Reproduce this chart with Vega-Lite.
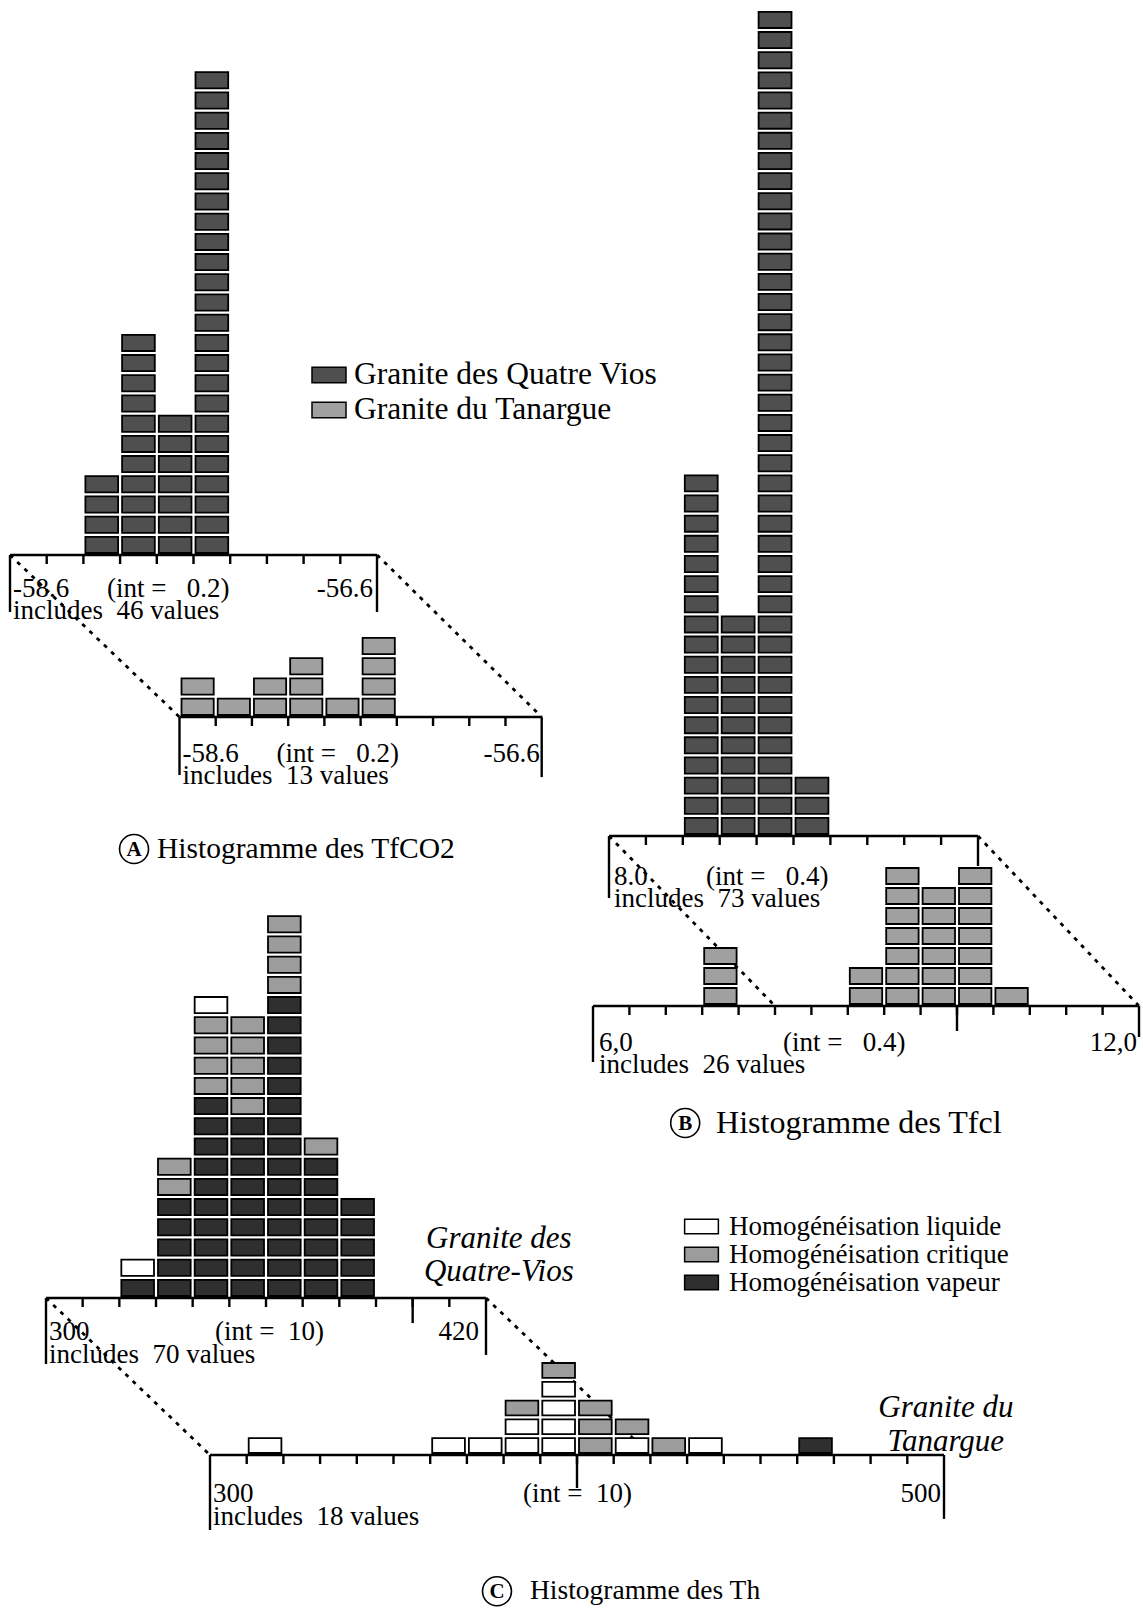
{
"$schema":"https://vega.github.io/schema/vega-lite/v6.json",
"width":1143,"height":1609,"padding":0,"autosize":{"type":"none"},"background":"white",
"config":{"view":{"stroke":null},
 "text":{"font":"Liberation Serif","fontSize":27,"color":"black","baseline":"alphabetic","align":"left"},
 "rule":{"color":"black","strokeWidth":2.4}},
"datasets":{
"A1":[
{"x0":-58.2,"x1":-58,"t":"QV"},{"x0":-58.2,"x1":-58,"t":"QV"},{"x0":-58.2,"x1":-58,"t":"QV"},{"x0":-58.2,"x1":-58,"t":"QV"},
{"x0":-58,"x1":-57.8,"t":"QV"},{"x0":-58,"x1":-57.8,"t":"QV"},{"x0":-58,"x1":-57.8,"t":"QV"},{"x0":-58,"x1":-57.8,"t":"QV"},{"x0":-58,"x1":-57.8,"t":"QV"},
{"x0":-58,"x1":-57.8,"t":"QV"},{"x0":-58,"x1":-57.8,"t":"QV"},{"x0":-58,"x1":-57.8,"t":"QV"},{"x0":-58,"x1":-57.8,"t":"QV"},{"x0":-58,"x1":-57.8,"t":"QV"},
{"x0":-58,"x1":-57.8,"t":"QV"},
{"x0":-57.8,"x1":-57.6,"t":"QV"},{"x0":-57.8,"x1":-57.6,"t":"QV"},{"x0":-57.8,"x1":-57.6,"t":"QV"},{"x0":-57.8,"x1":-57.6,"t":"QV"},{"x0":-57.8,"x1":-57.6,"t":"QV"},
{"x0":-57.8,"x1":-57.6,"t":"QV"},{"x0":-57.8,"x1":-57.6,"t":"QV"},
{"x0":-57.6,"x1":-57.4,"t":"QV"},{"x0":-57.6,"x1":-57.4,"t":"QV"},{"x0":-57.6,"x1":-57.4,"t":"QV"},{"x0":-57.6,"x1":-57.4,"t":"QV"},{"x0":-57.6,"x1":-57.4,"t":"QV"},
{"x0":-57.6,"x1":-57.4,"t":"QV"},{"x0":-57.6,"x1":-57.4,"t":"QV"},{"x0":-57.6,"x1":-57.4,"t":"QV"},{"x0":-57.6,"x1":-57.4,"t":"QV"},{"x0":-57.6,"x1":-57.4,"t":"QV"},
{"x0":-57.6,"x1":-57.4,"t":"QV"},{"x0":-57.6,"x1":-57.4,"t":"QV"},{"x0":-57.6,"x1":-57.4,"t":"QV"},{"x0":-57.6,"x1":-57.4,"t":"QV"},{"x0":-57.6,"x1":-57.4,"t":"QV"},
{"x0":-57.6,"x1":-57.4,"t":"QV"},{"x0":-57.6,"x1":-57.4,"t":"QV"},{"x0":-57.6,"x1":-57.4,"t":"QV"},{"x0":-57.6,"x1":-57.4,"t":"QV"},{"x0":-57.6,"x1":-57.4,"t":"QV"},
{"x0":-57.6,"x1":-57.4,"t":"QV"},{"x0":-57.6,"x1":-57.4,"t":"QV"},{"x0":-57.6,"x1":-57.4,"t":"QV"},{"x0":-57.6,"x1":-57.4,"t":"QV"}
],
"A2":[
{"x0":-58.6,"x1":-58.4,"t":"TA"},{"x0":-58.6,"x1":-58.4,"t":"TA"},
{"x0":-58.4,"x1":-58.2,"t":"TA"},
{"x0":-58.2,"x1":-58,"t":"TA"},{"x0":-58.2,"x1":-58,"t":"TA"},
{"x0":-58,"x1":-57.8,"t":"TA"},{"x0":-58,"x1":-57.8,"t":"TA"},{"x0":-58,"x1":-57.8,"t":"TA"},
{"x0":-57.8,"x1":-57.6,"t":"TA"},
{"x0":-57.6,"x1":-57.4,"t":"TA"},{"x0":-57.6,"x1":-57.4,"t":"TA"},{"x0":-57.6,"x1":-57.4,"t":"TA"},{"x0":-57.6,"x1":-57.4,"t":"TA"}
],
"B1":[
{"x0":8.8,"x1":9.2,"t":"QV"},{"x0":8.8,"x1":9.2,"t":"QV"},{"x0":8.8,"x1":9.2,"t":"QV"},{"x0":8.8,"x1":9.2,"t":"QV"},{"x0":8.8,"x1":9.2,"t":"QV"},
{"x0":8.8,"x1":9.2,"t":"QV"},{"x0":8.8,"x1":9.2,"t":"QV"},{"x0":8.8,"x1":9.2,"t":"QV"},{"x0":8.8,"x1":9.2,"t":"QV"},{"x0":8.8,"x1":9.2,"t":"QV"},
{"x0":8.8,"x1":9.2,"t":"QV"},{"x0":8.8,"x1":9.2,"t":"QV"},{"x0":8.8,"x1":9.2,"t":"QV"},{"x0":8.8,"x1":9.2,"t":"QV"},{"x0":8.8,"x1":9.2,"t":"QV"},
{"x0":8.8,"x1":9.2,"t":"QV"},{"x0":8.8,"x1":9.2,"t":"QV"},{"x0":8.8,"x1":9.2,"t":"QV"},
{"x0":9.2,"x1":9.6,"t":"QV"},{"x0":9.2,"x1":9.6,"t":"QV"},{"x0":9.2,"x1":9.6,"t":"QV"},{"x0":9.2,"x1":9.6,"t":"QV"},{"x0":9.2,"x1":9.6,"t":"QV"},
{"x0":9.2,"x1":9.6,"t":"QV"},{"x0":9.2,"x1":9.6,"t":"QV"},{"x0":9.2,"x1":9.6,"t":"QV"},{"x0":9.2,"x1":9.6,"t":"QV"},{"x0":9.2,"x1":9.6,"t":"QV"},
{"x0":9.2,"x1":9.6,"t":"QV"},
{"x0":9.6,"x1":10,"t":"QV"},{"x0":9.6,"x1":10,"t":"QV"},{"x0":9.6,"x1":10,"t":"QV"},{"x0":9.6,"x1":10,"t":"QV"},{"x0":9.6,"x1":10,"t":"QV"},
{"x0":9.6,"x1":10,"t":"QV"},{"x0":9.6,"x1":10,"t":"QV"},{"x0":9.6,"x1":10,"t":"QV"},{"x0":9.6,"x1":10,"t":"QV"},{"x0":9.6,"x1":10,"t":"QV"},
{"x0":9.6,"x1":10,"t":"QV"},{"x0":9.6,"x1":10,"t":"QV"},{"x0":9.6,"x1":10,"t":"QV"},{"x0":9.6,"x1":10,"t":"QV"},{"x0":9.6,"x1":10,"t":"QV"},
{"x0":9.6,"x1":10,"t":"QV"},{"x0":9.6,"x1":10,"t":"QV"},{"x0":9.6,"x1":10,"t":"QV"},{"x0":9.6,"x1":10,"t":"QV"},{"x0":9.6,"x1":10,"t":"QV"},
{"x0":9.6,"x1":10,"t":"QV"},{"x0":9.6,"x1":10,"t":"QV"},{"x0":9.6,"x1":10,"t":"QV"},{"x0":9.6,"x1":10,"t":"QV"},{"x0":9.6,"x1":10,"t":"QV"},
{"x0":9.6,"x1":10,"t":"QV"},{"x0":9.6,"x1":10,"t":"QV"},{"x0":9.6,"x1":10,"t":"QV"},{"x0":9.6,"x1":10,"t":"QV"},{"x0":9.6,"x1":10,"t":"QV"},
{"x0":9.6,"x1":10,"t":"QV"},{"x0":9.6,"x1":10,"t":"QV"},{"x0":9.6,"x1":10,"t":"QV"},{"x0":9.6,"x1":10,"t":"QV"},{"x0":9.6,"x1":10,"t":"QV"},
{"x0":9.6,"x1":10,"t":"QV"},{"x0":9.6,"x1":10,"t":"QV"},{"x0":9.6,"x1":10,"t":"QV"},{"x0":9.6,"x1":10,"t":"QV"},{"x0":9.6,"x1":10,"t":"QV"},
{"x0":9.6,"x1":10,"t":"QV"},
{"x0":10,"x1":10.4,"t":"QV"},{"x0":10,"x1":10.4,"t":"QV"},{"x0":10,"x1":10.4,"t":"QV"}
],
"B2":[
{"x0":7.2,"x1":7.6,"t":"TA"},{"x0":7.2,"x1":7.6,"t":"TA"},{"x0":7.2,"x1":7.6,"t":"TA"},
{"x0":8.8,"x1":9.2,"t":"TA"},{"x0":8.8,"x1":9.2,"t":"TA"},
{"x0":9.2,"x1":9.6,"t":"TA"},{"x0":9.2,"x1":9.6,"t":"TA"},{"x0":9.2,"x1":9.6,"t":"TA"},{"x0":9.2,"x1":9.6,"t":"TA"},{"x0":9.2,"x1":9.6,"t":"TA"},{"x0":9.2,"x1":9.6,"t":"TA"},{"x0":9.2,"x1":9.6,"t":"TA"},
{"x0":9.6,"x1":10,"t":"TA"},{"x0":9.6,"x1":10,"t":"TA"},{"x0":9.6,"x1":10,"t":"TA"},{"x0":9.6,"x1":10,"t":"TA"},{"x0":9.6,"x1":10,"t":"TA"},{"x0":9.6,"x1":10,"t":"TA"},
{"x0":10,"x1":10.4,"t":"TA"},{"x0":10,"x1":10.4,"t":"TA"},{"x0":10,"x1":10.4,"t":"TA"},{"x0":10,"x1":10.4,"t":"TA"},{"x0":10,"x1":10.4,"t":"TA"},{"x0":10,"x1":10.4,"t":"TA"},{"x0":10,"x1":10.4,"t":"TA"},
{"x0":10.4,"x1":10.8,"t":"TA"}
],
"C1":[
{"x0":320,"x1":330,"t":"V"},{"x0":320,"x1":330,"t":"L"},
{"x0":330,"x1":340,"t":"V"},{"x0":330,"x1":340,"t":"V"},{"x0":330,"x1":340,"t":"V"},{"x0":330,"x1":340,"t":"V"},{"x0":330,"x1":340,"t":"V"},
{"x0":330,"x1":340,"t":"C"},{"x0":330,"x1":340,"t":"C"},
{"x0":340,"x1":350,"t":"V"},{"x0":340,"x1":350,"t":"V"},{"x0":340,"x1":350,"t":"V"},{"x0":340,"x1":350,"t":"V"},{"x0":340,"x1":350,"t":"V"},
{"x0":340,"x1":350,"t":"V"},{"x0":340,"x1":350,"t":"V"},{"x0":340,"x1":350,"t":"V"},{"x0":340,"x1":350,"t":"V"},{"x0":340,"x1":350,"t":"V"},
{"x0":340,"x1":350,"t":"C"},{"x0":340,"x1":350,"t":"C"},{"x0":340,"x1":350,"t":"C"},{"x0":340,"x1":350,"t":"C"},
{"x0":340,"x1":350,"t":"L"},
{"x0":350,"x1":360,"t":"V"},{"x0":350,"x1":360,"t":"V"},{"x0":350,"x1":360,"t":"V"},{"x0":350,"x1":360,"t":"V"},{"x0":350,"x1":360,"t":"V"},
{"x0":350,"x1":360,"t":"V"},{"x0":350,"x1":360,"t":"V"},{"x0":350,"x1":360,"t":"V"},{"x0":350,"x1":360,"t":"V"},
{"x0":350,"x1":360,"t":"C"},{"x0":350,"x1":360,"t":"C"},{"x0":350,"x1":360,"t":"C"},{"x0":350,"x1":360,"t":"C"},{"x0":350,"x1":360,"t":"C"},
{"x0":360,"x1":370,"t":"V"},{"x0":360,"x1":370,"t":"V"},{"x0":360,"x1":370,"t":"V"},{"x0":360,"x1":370,"t":"V"},{"x0":360,"x1":370,"t":"V"},
{"x0":360,"x1":370,"t":"V"},{"x0":360,"x1":370,"t":"V"},{"x0":360,"x1":370,"t":"V"},{"x0":360,"x1":370,"t":"V"},{"x0":360,"x1":370,"t":"V"},
{"x0":360,"x1":370,"t":"V"},{"x0":360,"x1":370,"t":"V"},{"x0":360,"x1":370,"t":"V"},{"x0":360,"x1":370,"t":"V"},{"x0":360,"x1":370,"t":"V"},
{"x0":360,"x1":370,"t":"C"},{"x0":360,"x1":370,"t":"C"},{"x0":360,"x1":370,"t":"C"},{"x0":360,"x1":370,"t":"C"},
{"x0":370,"x1":380,"t":"V"},{"x0":370,"x1":380,"t":"V"},{"x0":370,"x1":380,"t":"V"},{"x0":370,"x1":380,"t":"V"},{"x0":370,"x1":380,"t":"V"},
{"x0":370,"x1":380,"t":"V"},{"x0":370,"x1":380,"t":"V"},{"x0":370,"x1":380,"t":"C"},
{"x0":380,"x1":390,"t":"V"},{"x0":380,"x1":390,"t":"V"},{"x0":380,"x1":390,"t":"V"},{"x0":380,"x1":390,"t":"V"},{"x0":380,"x1":390,"t":"V"}
],
"C2":[
{"x0":310,"x1":320,"t":"L"},
{"x0":360,"x1":370,"t":"L"},
{"x0":370,"x1":380,"t":"L"},
{"x0":380,"x1":390,"t":"L"},{"x0":380,"x1":390,"t":"L"},{"x0":380,"x1":390,"t":"C"},
{"x0":390,"x1":400,"t":"L"},{"x0":390,"x1":400,"t":"L"},{"x0":390,"x1":400,"t":"L"},{"x0":390,"x1":400,"t":"L"},{"x0":390,"x1":400,"t":"C"},
{"x0":400,"x1":410,"t":"C"},{"x0":400,"x1":410,"t":"C"},{"x0":400,"x1":410,"t":"C"},
{"x0":410,"x1":420,"t":"L"},{"x0":410,"x1":420,"t":"C"},
{"x0":420,"x1":430,"t":"C"},
{"x0":430,"x1":440,"t":"L"},
{"x0":460,"x1":470,"t":"V"}
],
"tA":[{"v":-58.4},{"v":-58.2},{"v":-58},{"v":-57.8},{"v":-57.6},{"v":-57.4},{"v":-57.2},{"v":-57},{"v":-56.8}],
"tB1":[{"v":8.4},{"v":8.8},{"v":9.2},{"v":9.6},{"v":10},{"v":10.4},{"v":10.8},{"v":11.2},{"v":11.6}],
"tB2":[{"v":6.4},{"v":6.8},{"v":7.2},{"v":7.6},{"v":8},{"v":8.4},{"v":8.8},{"v":9.2},{"v":9.6},{"v":10},{"v":10.4},{"v":10.8},{"v":11.2},{"v":11.6}],
"tC1":[{"v":310},{"v":320},{"v":330},{"v":340},{"v":350},{"v":360},{"v":370},{"v":380},{"v":390},{"v":400},{"v":410}],
"tC2":[{"v":310},{"v":320},{"v":330},{"v":340},{"v":350},{"v":360},{"v":370},{"v":380},{"v":390},{"v":400},{"v":410},{"v":420},{"v":430},{"v":440},{"v":450},{"v":460},{"v":470},{"v":480},{"v":490}]
},
"layer":[
{"layer":[
 {"data":{"name":"A1"},
  "transform":[{"window":[{"op":"row_number","as":"k1"},{"op":"count","as":"k0"}],"groupby":["x0"],"frame":[null,-1]}],
  "mark":{"type":"rect","stroke":"black","strokeWidth":1.8,"xOffset":2,"x2Offset":-2,"yOffset":-2,"y2Offset":2},
  "encoding":{
   "x":{"field":"x0","type":"quantitative","scale":{"domain":[-58.6,-56.6],"range":[10,377],"nice":false,"zero":false},"axis":null},
   "x2":{"field":"x1"},
   "y":{"field":"k0","type":"quantitative","scale":{"domain":[0,24],"range":[555,70.2],"nice":false,"zero":false},"axis":null},
   "y2":{"field":"k1"},
   "fill":{"field":"t","type":"nominal","scale":{"domain":["QV","TA"],"range":["#4f4f4f","#a0a0a0"]},
     "legend":{"orient":"none","legendX":311,"legendY":357,"title":null,"padding":0,"rowPadding":1,
       "labelExpr":"datum.label == 'QV' ? 'Granite des Quatre Vios' : 'Granite du Tanargue'",
       "labelFont":"Liberation Serif","labelFontSize":31.5,"labelColor":"black","labelLimit":600,"labelOffset":7,
       "symbolType":"M-1,-0.45H1V0.45H-1Z","symbolSize":1156,"symbolStrokeColor":"black","symbolStrokeWidth":1.5,"symbolOpacity":1}}}},
 {"data":{"values":[{}]},"mark":{"type":"rule"},"encoding":{"x":{"datum":-58.6,"axis":null},"x2":{"datum":-56.6},"y":{"datum":0,"axis":null}}},
 {"data":{"name":"tA"},"mark":{"type":"rule"},"encoding":{"x":{"field":"v","type":"quantitative","axis":null},"y":{"datum":0,"axis":null},"y2":{"datum":-0.446}}},
 {"data":{"values":[{}]},"mark":{"type":"rule"},"encoding":{"x":{"datum":-58.6,"axis":null},"y":{"datum":0,"axis":null},"y2":{"datum":-2.82}}},
 {"data":{"values":[{}]},"mark":{"type":"rule"},"encoding":{"x":{"datum":-56.6,"axis":null},"y":{"datum":0,"axis":null},"y2":{"datum":-2.82}}},
 {"data":{"values":[{}]},"mark":{"type":"text","text":"-58.6","dx":3,"dy":42},"encoding":{"x":{"datum":-58.6,"axis":null},"y":{"datum":0,"axis":null}}},
 {"data":{"values":[{}]},"mark":{"type":"text","text":"(int =\u00a0\u00a0 0.2)","dx":97,"dy":42},"encoding":{"x":{"datum":-58.6,"axis":null},"y":{"datum":0,"axis":null}}},
 {"data":{"values":[{}]},"mark":{"type":"text","text":"-56.6","align":"right","dx":-4,"dy":42},"encoding":{"x":{"datum":-56.6,"axis":null},"y":{"datum":0,"axis":null}}},
 {"data":{"values":[{}]},"mark":{"type":"text","text":"includes\u00a0 46 values","dx":3,"dy":64},"encoding":{"x":{"datum":-58.6,"axis":null},"y":{"datum":0,"axis":null}}}
]},
{"layer":[
 {"data":{"values":[{}]},"mark":{"type":"rule","strokeDash":[4,6],"strokeWidth":2.8},"encoding":{"x":{"datum":-59.536,"axis":null},"y":{"datum":7.98,"axis":null},"x2":{"datum":-58.6},"y2":{"datum":0}}},
 {"data":{"values":[{}]},"mark":{"type":"rule","strokeDash":[4,6],"strokeWidth":2.8},"encoding":{"x":{"datum":-57.509,"axis":null},"y":{"datum":7.98,"axis":null},"x2":{"datum":-56.6},"y2":{"datum":0}}},
 {"data":{"name":"A2"},
  "transform":[{"window":[{"op":"row_number","as":"k1"},{"op":"count","as":"k0"}],"groupby":["x0"],"frame":[null,-1]}],
  "mark":{"type":"rect","stroke":"black","strokeWidth":1.8,"xOffset":2,"x2Offset":-2,"yOffset":-2,"y2Offset":2},
  "encoding":{
   "x":{"field":"x0","type":"quantitative","scale":{"domain":[-58.6,-56.6],"range":[179.5,541.7],"nice":false,"zero":false},"axis":null},
   "x2":{"field":"x1"},
   "y":{"field":"k0","type":"quantitative","scale":{"domain":[0,4],"range":[717,635.8],"nice":false,"zero":false},"axis":null},
   "y2":{"field":"k1"},
   "fill":{"field":"t","type":"nominal","scale":{"domain":["QV","TA"],"range":["#4f4f4f","#a0a0a0"]},"legend":null}}},
 {"data":{"values":[{}]},"mark":{"type":"rule"},"encoding":{"x":{"datum":-58.6,"axis":null},"x2":{"datum":-56.6},"y":{"datum":0,"axis":null}}},
 {"data":{"name":"tA"},"mark":{"type":"rule"},"encoding":{"x":{"field":"v","type":"quantitative","axis":null},"y":{"datum":0,"axis":null},"y2":{"datum":-0.443}}},
 {"data":{"values":[{}]},"mark":{"type":"rule"},"encoding":{"x":{"datum":-58.6,"axis":null},"y":{"datum":0,"axis":null},"y2":{"datum":-2.86}}},
 {"data":{"values":[{}]},"mark":{"type":"rule"},"encoding":{"x":{"datum":-56.6,"axis":null},"y":{"datum":0,"axis":null},"y2":{"datum":-2.96}}},
 {"data":{"values":[{}]},"mark":{"type":"text","text":"-58.6","dx":3,"dy":45},"encoding":{"x":{"datum":-58.6,"axis":null},"y":{"datum":0,"axis":null}}},
 {"data":{"values":[{}]},"mark":{"type":"text","text":"(int =\u00a0\u00a0 0.2)","dx":97,"dy":45},"encoding":{"x":{"datum":-58.6,"axis":null},"y":{"datum":0,"axis":null}}},
 {"data":{"values":[{}]},"mark":{"type":"text","text":"-56.6","align":"right","dx":-2,"dy":45},"encoding":{"x":{"datum":-56.6,"axis":null},"y":{"datum":0,"axis":null}}},
 {"data":{"values":[{}]},"mark":{"type":"text","text":"includes\u00a0 13 values","dx":3,"dy":67},"encoding":{"x":{"datum":-58.6,"axis":null},"y":{"datum":0,"axis":null}}},
 {"data":{"values":[{}]},"mark":{"type":"point","shape":"circle","size":840,"filled":false,"color":"black","strokeWidth":1.6,"opacity":1},"encoding":{"x":{"datum":-58.851,"axis":null},"y":{"datum":-6.5,"axis":null}}},
 {"data":{"values":[{}]},"mark":{"type":"text","text":"A","align":"center","baseline":"middle","fontSize":21,"fontWeight":"bold","dy":1},"encoding":{"x":{"datum":-58.851,"axis":null},"y":{"datum":-6.5,"axis":null}}},
 {"data":{"values":[{}]},"mark":{"type":"text","text":"Histogramme des TfCO2","baseline":"middle","fontSize":29.5},"encoding":{"x":{"datum":-58.724,"axis":null},"y":{"datum":-6.5,"axis":null}}}
]},
{"layer":[
 {"data":{"name":"B1"},
  "transform":[{"window":[{"op":"row_number","as":"k1"},{"op":"count","as":"k0"}],"groupby":["x0"],"frame":[null,-1]}],
  "mark":{"type":"rect","stroke":"black","strokeWidth":1.8,"xOffset":2,"x2Offset":-2,"yOffset":-2,"y2Offset":2},
  "encoding":{
   "x":{"field":"x0","type":"quantitative","scale":{"domain":[8,12],"range":[609,978],"nice":false,"zero":false},"axis":null},
   "x2":{"field":"x1"},
   "y":{"field":"k0","type":"quantitative","scale":{"domain":[0,41],"range":[836,9.85],"nice":false,"zero":false},"axis":null},
   "y2":{"field":"k1"},
   "fill":{"field":"t","type":"nominal","scale":{"domain":["QV","TA"],"range":["#4f4f4f","#a0a0a0"]},"legend":null}}},
 {"data":{"values":[{}]},"mark":{"type":"rule"},"encoding":{"x":{"datum":8,"axis":null},"x2":{"datum":12},"y":{"datum":0,"axis":null}}},
 {"data":{"name":"tB1"},"mark":{"type":"rule"},"encoding":{"x":{"field":"v","type":"quantitative","axis":null},"y":{"datum":0,"axis":null},"y2":{"datum":-0.447}}},
 {"data":{"values":[{}]},"mark":{"type":"rule"},"encoding":{"x":{"datum":8,"axis":null},"y":{"datum":0,"axis":null},"y2":{"datum":-3.08}}},
 {"data":{"values":[{}]},"mark":{"type":"rule"},"encoding":{"x":{"datum":12,"axis":null},"y":{"datum":0,"axis":null},"y2":{"datum":-1.49}}},
 {"data":{"values":[{}]},"mark":{"type":"text","text":"8.0","dx":5,"dy":49},"encoding":{"x":{"datum":8,"axis":null},"y":{"datum":0,"axis":null}}},
 {"data":{"values":[{}]},"mark":{"type":"text","text":"(int =\u00a0\u00a0 0.4)","dx":97,"dy":49},"encoding":{"x":{"datum":8,"axis":null},"y":{"datum":0,"axis":null}}},
 {"data":{"values":[{}]},"mark":{"type":"text","text":"includes\u00a0 73 values","dx":5,"dy":71},"encoding":{"x":{"datum":8,"axis":null},"y":{"datum":0,"axis":null}}}
]},
{"layer":[
 {"data":{"values":[{}]},"mark":{"type":"rule","strokeDash":[4,6],"strokeWidth":2.8},"encoding":{"x":{"datum":6.176,"axis":null},"y":{"datum":8.5,"axis":null},"x2":{"datum":8},"y2":{"datum":0}}},
 {"data":{"values":[{}]},"mark":{"type":"rule","strokeDash":[4,6],"strokeWidth":2.8},"encoding":{"x":{"datum":10.231,"axis":null},"y":{"datum":8.5,"axis":null},"x2":{"datum":12},"y2":{"datum":0}}},
 {"data":{"name":"B2"},
  "transform":[{"window":[{"op":"row_number","as":"k1"},{"op":"count","as":"k0"}],"groupby":["x0"],"frame":[null,-1]}],
  "mark":{"type":"rect","stroke":"black","strokeWidth":1.8,"xOffset":2,"x2Offset":-2,"yOffset":-2,"y2Offset":2},
  "encoding":{
   "x":{"field":"x0","type":"quantitative","scale":{"domain":[6,12],"range":[593,1139],"nice":false,"zero":false},"axis":null},
   "x2":{"field":"x1"},
   "y":{"field":"k0","type":"quantitative","scale":{"domain":[0,7],"range":[1006,866],"nice":false,"zero":false},"axis":null},
   "y2":{"field":"k1"},
   "fill":{"field":"t","type":"nominal","scale":{"domain":["QV","TA"],"range":["#4f4f4f","#a0a0a0"]},"legend":null}}},
 {"data":{"values":[{}]},"mark":{"type":"rule"},"encoding":{"x":{"datum":6,"axis":null},"x2":{"datum":12},"y":{"datum":0,"axis":null}}},
 {"data":{"name":"tB2"},"mark":{"type":"rule"},"encoding":{"x":{"field":"v","type":"quantitative","axis":null},"y":{"datum":0,"axis":null},"y2":{"datum":-0.45}}},
 {"data":{"values":[{}]},"mark":{"type":"rule"},"encoding":{"x":{"datum":6,"axis":null},"y":{"datum":0,"axis":null},"y2":{"datum":-2.8}}},
 {"data":{"values":[{}]},"mark":{"type":"rule"},"encoding":{"x":{"datum":12,"axis":null},"y":{"datum":0,"axis":null},"y2":{"datum":-1.55}}},
 {"data":{"values":[{}]},"mark":{"type":"rule"},"encoding":{"x":{"datum":10,"axis":null},"y":{"datum":0,"axis":null},"y2":{"datum":-1.25}}},
 {"data":{"values":[{}]},"mark":{"type":"text","text":"6,0","dx":6,"dy":45},"encoding":{"x":{"datum":6,"axis":null},"y":{"datum":0,"axis":null}}},
 {"data":{"values":[{}]},"mark":{"type":"text","text":"(int =\u00a0\u00a0 0.4)","dx":190,"dy":45},"encoding":{"x":{"datum":6,"axis":null},"y":{"datum":0,"axis":null}}},
 {"data":{"values":[{}]},"mark":{"type":"text","text":"12,0","align":"right","dx":-2,"dy":45},"encoding":{"x":{"datum":12,"axis":null},"y":{"datum":0,"axis":null}}},
 {"data":{"values":[{}]},"mark":{"type":"text","text":"includes\u00a0 26 values","dx":6,"dy":67},"encoding":{"x":{"datum":6,"axis":null},"y":{"datum":0,"axis":null}}},
 {"data":{"values":[{}]},"mark":{"type":"point","shape":"circle","size":840,"filled":false,"color":"black","strokeWidth":1.6,"opacity":1},"encoding":{"x":{"datum":7.013,"axis":null},"y":{"datum":-5.85,"axis":null}}},
 {"data":{"values":[{}]},"mark":{"type":"text","text":"B","align":"center","baseline":"middle","fontSize":21,"fontWeight":"bold","dy":1},"encoding":{"x":{"datum":7.013,"axis":null},"y":{"datum":-5.85,"axis":null}}},
 {"data":{"values":[{}]},"mark":{"type":"text","text":"Histogramme des Tfcl","baseline":"middle","fontSize":32},"encoding":{"x":{"datum":7.352,"axis":null},"y":{"datum":-5.85,"axis":null}}}
]},
{"layer":[
 {"data":{"name":"C1"},
  "transform":[{"window":[{"op":"row_number","as":"k1"},{"op":"count","as":"k0"}],"groupby":["x0"],"frame":[null,-1]}],
  "mark":{"type":"rect","stroke":"black","strokeWidth":1.8,"xOffset":2,"x2Offset":-2,"yOffset":-2,"y2Offset":2},
  "encoding":{
   "x":{"field":"x0","type":"quantitative","scale":{"domain":[300,420],"range":[46,486],"nice":false,"zero":false},"axis":null},
   "x2":{"field":"x1"},
   "y":{"field":"k0","type":"quantitative","scale":{"domain":[0,19],"range":[1298,914.2],"nice":false,"zero":false},"axis":null},
   "y2":{"field":"k1"},
   "fill":{"field":"t","type":"nominal","scale":{"domain":["L","C","V"],"range":["#ffffff","#9c9c9c","#2f2f2f"]},
     "legend":{"orient":"none","legendX":687,"legendY":1212,"title":null,"padding":0,"rowPadding":0,
       "labelExpr":"datum.label == 'L' ? 'Homogénéisation liquide' : datum.label == 'C' ? 'Homogénéisation critique' : 'Homogénéisation vapeur'",
       "labelFont":"Liberation Serif","labelFontSize":27,"labelColor":"black","labelLimit":600,"labelOffset":13,
       "symbolType":"M-1.25,-0.53H1.25V0.53H-1.25Z","symbolSize":729,"symbolStrokeColor":"black","symbolStrokeWidth":1.5,"symbolOpacity":1}}}},
 {"data":{"values":[{}]},"mark":{"type":"rule"},"encoding":{"x":{"datum":300,"axis":null},"x2":{"datum":420},"y":{"datum":0,"axis":null}}},
 {"data":{"name":"tC1"},"mark":{"type":"rule"},"encoding":{"x":{"field":"v","type":"quantitative","axis":null},"y":{"datum":0,"axis":null},"y2":{"datum":-0.446}}},
 {"data":{"values":[{}]},"mark":{"type":"rule"},"encoding":{"x":{"datum":300,"axis":null},"y":{"datum":0,"axis":null},"y2":{"datum":-3.27}}},
 {"data":{"values":[{}]},"mark":{"type":"rule"},"encoding":{"x":{"datum":420,"axis":null},"y":{"datum":0,"axis":null},"y2":{"datum":-2.82}}},
 {"data":{"values":[{}]},"mark":{"type":"rule"},"encoding":{"x":{"datum":400,"axis":null},"y":{"datum":0,"axis":null},"y2":{"datum":-1.24}}},
 {"data":{"values":[{}]},"mark":{"type":"text","text":"300","dx":3,"dy":42},"encoding":{"x":{"datum":300,"axis":null},"y":{"datum":0,"axis":null}}},
 {"data":{"values":[{}]},"mark":{"type":"text","text":"(int =\u00a0 10)","dx":169,"dy":42},"encoding":{"x":{"datum":300,"axis":null},"y":{"datum":0,"axis":null}}},
 {"data":{"values":[{}]},"mark":{"type":"text","text":"420","align":"right","dx":-7,"dy":42},"encoding":{"x":{"datum":420,"axis":null},"y":{"datum":0,"axis":null}}},
 {"data":{"values":[{}]},"mark":{"type":"text","text":"includes\u00a0 70 values","dx":3,"dy":65},"encoding":{"x":{"datum":300,"axis":null},"y":{"datum":0,"axis":null}}},
 {"data":{"values":[{}]},"mark":{"type":"text","text":"Granite des","align":"center","baseline":"middle","fontSize":31,"fontStyle":"italic"},"encoding":{"x":{"datum":423.5,"axis":null},"y":{"datum":2.92,"axis":null}}},
 {"data":{"values":[{}]},"mark":{"type":"text","text":"Quatre-Vios","align":"center","baseline":"middle","fontSize":31,"fontStyle":"italic"},"encoding":{"x":{"datum":423.5,"axis":null},"y":{"datum":1.287,"axis":null}}}
]},
{"layer":[
 {"data":{"values":[{}]},"mark":{"type":"rule","strokeDash":[4,6],"strokeWidth":2.8},"encoding":{"x":{"datum":255.31,"axis":null},"y":{"datum":8.351,"axis":null},"x2":{"datum":300},"y2":{"datum":0}}},
 {"data":{"values":[{}]},"mark":{"type":"rule","strokeDash":[4,6],"strokeWidth":2.8},"encoding":{"x":{"datum":375.2,"axis":null},"y":{"datum":8.351,"axis":null},"x2":{"datum":420},"y2":{"datum":0}}},
 {"data":{"name":"C2"},
  "transform":[{"window":[{"op":"row_number","as":"k1"},{"op":"count","as":"k0"}],"groupby":["x0"],"frame":[null,-1]}],
  "mark":{"type":"rect","stroke":"black","strokeWidth":1.8,"xOffset":2,"x2Offset":-2,"yOffset":-2,"y2Offset":2},
  "encoding":{
   "x":{"field":"x0","type":"quantitative","scale":{"domain":[300,500],"range":[210,944],"nice":false,"zero":false},"axis":null},
   "x2":{"field":"x1"},
   "y":{"field":"k0","type":"quantitative","scale":{"domain":[0,5],"range":[1455,1361],"nice":false,"zero":false},"axis":null},
   "y2":{"field":"k1"},
   "fill":{"field":"t","type":"nominal","scale":{"domain":["L","C","V"],"range":["#ffffff","#9c9c9c","#2f2f2f"]},"legend":null}}},
 {"data":{"values":[{}]},"mark":{"type":"rule"},"encoding":{"x":{"datum":300,"axis":null},"x2":{"datum":500},"y":{"datum":0,"axis":null}}},
 {"data":{"name":"tC2"},"mark":{"type":"rule"},"encoding":{"x":{"field":"v","type":"quantitative","axis":null},"y":{"datum":0,"axis":null},"y2":{"datum":-0.479}}},
 {"data":{"values":[{}]},"mark":{"type":"rule"},"encoding":{"x":{"datum":300,"axis":null},"y":{"datum":0,"axis":null},"y2":{"datum":-3.99}}},
 {"data":{"values":[{}]},"mark":{"type":"rule"},"encoding":{"x":{"datum":500,"axis":null},"y":{"datum":0,"axis":null},"y2":{"datum":-3.4}}},
 {"data":{"values":[{}]},"mark":{"type":"rule"},"encoding":{"x":{"datum":400,"axis":null},"y":{"datum":0,"axis":null},"y2":{"datum":-1.755}}},
 {"data":{"values":[{}]},"mark":{"type":"text","text":"300","dx":3,"dy":47},"encoding":{"x":{"datum":300,"axis":null},"y":{"datum":0,"axis":null}}},
 {"data":{"values":[{}]},"mark":{"type":"text","text":"(int =\u00a0 10)","dx":313,"dy":47},"encoding":{"x":{"datum":300,"axis":null},"y":{"datum":0,"axis":null}}},
 {"data":{"values":[{}]},"mark":{"type":"text","text":"500","align":"right","dx":-3,"dy":47},"encoding":{"x":{"datum":500,"axis":null},"y":{"datum":0,"axis":null}}},
 {"data":{"values":[{}]},"mark":{"type":"text","text":"includes\u00a0 18 values","dx":3,"dy":70},"encoding":{"x":{"datum":300,"axis":null},"y":{"datum":0,"axis":null}}},
 {"data":{"values":[{}]},"mark":{"type":"text","text":"Granite du","align":"center","baseline":"middle","fontSize":31,"fontStyle":"italic"},"encoding":{"x":{"datum":500.5,"axis":null},"y":{"datum":2.5,"axis":null}}},
 {"data":{"values":[{}]},"mark":{"type":"text","text":"Tanargue","align":"center","baseline":"middle","fontSize":31,"fontStyle":"italic"},"encoding":{"x":{"datum":500.5,"axis":null},"y":{"datum":0.69,"axis":null}}},
 {"data":{"values":[{}]},"mark":{"type":"point","shape":"circle","size":840,"filled":false,"color":"black","strokeWidth":1.6,"opacity":1},"encoding":{"x":{"datum":378.2,"axis":null},"y":{"datum":-7.25,"axis":null}}},
 {"data":{"values":[{}]},"mark":{"type":"text","text":"C","align":"center","baseline":"middle","fontSize":21,"fontWeight":"bold","dy":1},"encoding":{"x":{"datum":378.2,"axis":null},"y":{"datum":-7.25,"axis":null}}},
 {"data":{"values":[{}]},"mark":{"type":"text","text":"Histogramme des Th","baseline":"middle","fontSize":27.5},"encoding":{"x":{"datum":387.19,"axis":null},"y":{"datum":-7.25,"axis":null}}}
]}
],
"resolve":{"scale":{"x":"independent","y":"independent","fill":"independent"},"axis":{"x":"independent","y":"independent"},"legend":{"fill":"independent"}}
}
